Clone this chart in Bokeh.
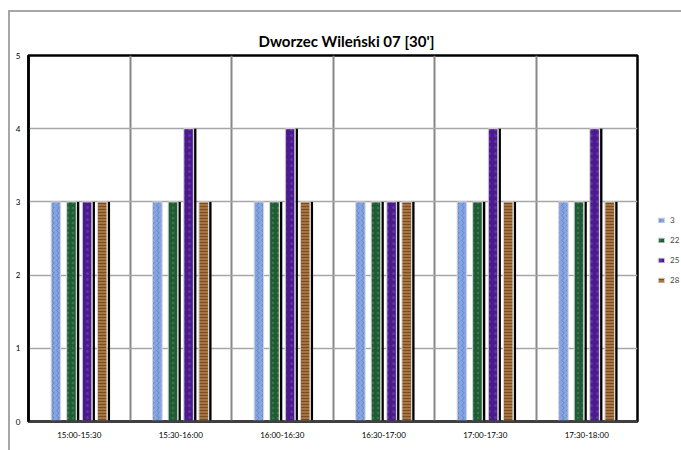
from bokeh.plotting import figure
from bokeh.models import ColumnDataSource, FixedTicker, Legend, LegendItem, Range1d
from bokeh.embed import file_html
from bokeh.resources import INLINE
from bokeh.transform import dodge

# ---- data ----
categories = ["15:00-15:30", "15:30-16:00", "16:00-16:30",
              "16:30-17:00", "17:00-17:30", "17:30-18:00"]
series_names = ["3", "22", "25", "28"]
values_3 = [3, 3, 3, 3, 3, 3]
values_22 = [3, 3, 3, 3, 3, 3]
values_25 = [3, 4, 4, 3, 4, 4]
values_28 = [3, 3, 3, 3, 3, 3]
y_ticks = [0, 1, 2, 3, 4, 5]

# ---- styles ----
fills = ["#86A5E0", "#1F5B34", "#4B1A8C", "#A7743F"]
hatch_colors = ["#5476C2", "#3F7D53", "#6A3BAE", "#6A421D"]
hatch_patterns = ["vertical_wave", "dot", "dot", "horizontal_line"]
hatch_scales = [5, 5, 6, 3]
offsets = [-0.23, -0.077, 0.077, 0.226]
has_shadow = [False, True, True, True]
bar_w = 0.094
shadow_w = 0.023
shadow_dx = 0.066

centers = [i + 0.5 for i in range(len(categories))]
source = ColumnDataSource(data=dict(x=centers, s3=values_3, s22=values_22,
                                    s25=values_25, s28=values_28))
cols = ["s3", "s22", "s25", "s28"]

p = figure(frame_width=609, frame_height=366, x_range=Range1d(0, len(categories)),
           y_range=Range1d(0, 5), output_backend="svg", toolbar_location=None,
           min_border_left=28, min_border_right=44, min_border_top=55,
           min_border_bottom=28, title="Dworzec Wileński 07 [30']")

# transparent border so the page's chart-area border (top/left edges) shows
p.border_fill_alpha = 0

p.title.text_font = "Lato"
p.title.text_font_style = "bold"
p.title.text_font_size = "15px"
p.title.align = "left"
p.title.offset = 230
p.title.standoff = 12
p.title.text_color = "#000000"

items = []
for k, col in enumerate(cols):
    if has_shadow[k]:
        p.vbar(x=dodge("x", offsets[k] + shadow_dx, range=p.x_range), top=col,
               width=shadow_w, bottom=0, source=source,
               fill_color="black", line_color=None)
    r = p.vbar(x=dodge("x", offsets[k], range=p.x_range), top=col, width=bar_w,
               bottom=0, source=source, fill_color=fills[k],
               line_color="#D9D9D9", line_width=1,
               hatch_pattern=hatch_patterns[k], hatch_color=hatch_colors[k],
               hatch_scale=hatch_scales[k], hatch_weight=1, hatch_alpha=0.75)
    items.append(LegendItem(label=series_names[k], renderers=[r]))

legend = Legend(items=items, location=(20, 136), margin=0, padding=2,
                glyph_width=8, glyph_height=6, label_height=10,
                label_standoff=5, spacing=10, label_text_font="Lato",
                label_text_font_size="8px", border_line_color=None,
                background_fill_alpha=0)
p.add_layout(legend, "right")

# axes
p.xaxis.ticker = FixedTicker(ticks=centers)
p.xaxis.major_label_overrides = {c: lab for c, lab in zip(centers, categories)}
p.yaxis.ticker = FixedTicker(ticks=y_ticks)
for ax in (p.xaxis[0], p.yaxis[0]):
    ax.major_tick_line_color = None
    ax.minor_tick_line_color = None
    ax.major_tick_out = 0
    ax.major_tick_in = 0
    ax.minor_tick_out = 0
    ax.major_label_text_font = "Lato"
    ax.major_label_text_font_size = "8px"
    ax.major_label_text_color = "#000000"
p.xaxis.axis_line_color = "#404040"
p.xaxis.axis_line_width = 2.5
p.xaxis.major_label_standoff = 8
p.yaxis.axis_line_color = "black"
p.yaxis.axis_line_width = 2.5
p.yaxis.major_label_standoff = 8

# grids
p.xgrid.ticker = FixedTicker(ticks=list(range(1, len(categories))))
p.xgrid.grid_line_color = "#878787"
p.xgrid.grid_line_width = 2
p.ygrid.ticker = FixedTicker(ticks=y_ticks[1:-1])
p.ygrid.grid_line_color = "#A6A6A6"
p.ygrid.grid_line_width = 1.5

p.outline_line_color = "black"
p.outline_line_width = 2.5
p.background_fill_color = "white"

page_css = ("<style>html{background-color:white;"
            "background-image:linear-gradient(#A6A6A6,#A6A6A6),"
            "linear-gradient(#A6A6A6,#A6A6A6);"
            "background-position:9px 10px,8px 10px;"
            "background-size:3000px 2px,2px 3000px;"
            "background-repeat:no-repeat,no-repeat;}</style>")

html = file_html(p, INLINE).replace("</head>", page_css + "</head>", 1)
open("out.html", "w").write(html)
